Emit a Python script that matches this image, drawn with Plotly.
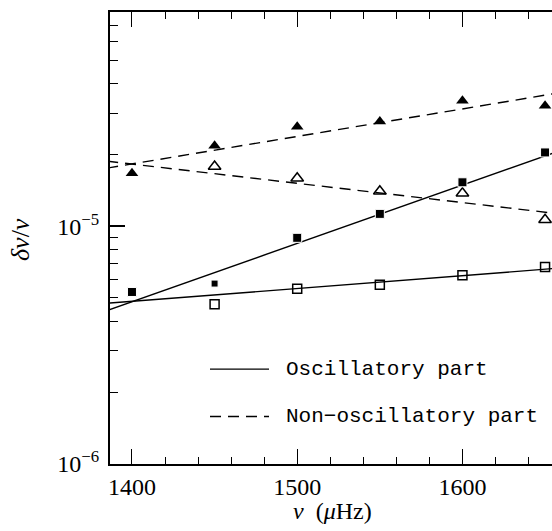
import plotly.graph_objects as go

# ---- data ----
freq = [1400, 1450, 1500, 1550, 1600, 1650]
freq_open = [1450, 1500, 1550, 1600, 1650]

nonosc_filled = [1.675e-5, 2.19e-5, 2.63e-5, 2.77e-5, 3.38e-5, 3.22e-5]   # filled triangles
nonosc_open = [1.79e-5, 1.595e-5, 1.407e-5, 1.38e-5, 1.067e-5]          # open triangles
osc_filled = [5.30e-6, 5.75e-6, 8.96e-6, 1.13e-5, 1.535e-5, 2.05e-5]    # filled squares
osc_open = [4.71e-6, 5.47e-6, 5.69e-6, 6.23e-6, 6.75e-6]               # open squares

# fitted lines (end points read at the axis edges)
fit_x = [1385, 1655]
fit_osc_filled = [4.43e-6, 2.04e-5]
fit_osc_open = [4.75e-6, 6.65e-6]
fit_nonosc_filled = [1.762e-5, 3.62e-5]
fit_nonosc_open = [1.884e-5, 1.138e-5]

x_ticks = [1400, 1500, 1600]
y_ticks = [1e-6, 1e-5]
y_ticktext = ["10<sup>−6</sup>", "10<sup>−5</sup>"]
y_minor = [2e-6, 3e-6, 4e-6, 5e-6, 6e-6, 7e-6, 8e-6, 9e-6,
           2e-5, 3e-5, 4e-5, 5e-5, 6e-5, 7e-5, 8e-5]

legend_labels = ["Oscillatory part", "Non\u2212oscillatory part"]

SERIF = "Liberation Serif"
MONO = "Liberation Mono"

fig = go.Figure()

dash = "11px,7px"
for ys, dsh in [(fit_osc_filled, "solid"), (fit_osc_open, "solid"),
                (fit_nonosc_filled, dash), (fit_nonosc_open, dash)]:
    fig.add_trace(go.Scatter(x=fit_x, y=ys, mode="lines",
                             line=dict(color="black", width=1.4, dash=dsh),
                             showlegend=False, hoverinfo="skip"))

fig.add_trace(go.Scatter(x=freq, y=nonosc_filled, mode="markers",
                         marker=dict(symbol="triangle-up", size=11, color="black", opacity=1),
                         showlegend=False))
fig.add_trace(go.Scatter(x=freq_open, y=nonosc_open, mode="markers",
                         marker=dict(symbol="triangle-up-open", size=11, color="black",
                                     opacity=1, line=dict(width=1.5)),
                         showlegend=False))
fig.add_trace(go.Scatter(x=freq, y=osc_filled, mode="markers",
                         marker=dict(symbol="square", size=[9, 7, 9, 9, 9, 9], color="black",
                                     opacity=1),
                         showlegend=False))
fig.add_trace(go.Scatter(x=freq_open, y=osc_open, mode="markers",
                         marker=dict(symbol="square-open", size=9, color="black",
                                     opacity=1, line=dict(width=1.5)),
                         showlegend=False))

# manual legend
leg_y = [0.21, 0.105]
for yy, dsh, lab in zip(leg_y, ["solid", dash], legend_labels):
    fig.add_shape(type="line", xref="paper", yref="paper",
                  x0=(210 - 110) / 442, x1=(269 - 110) / 442, y0=yy, y1=yy,
                  line=dict(color="black", width=1.4, dash=dsh))
    fig.add_annotation(xref="paper", yref="paper", x=(284 - 110) / 442, y=yy,
                       text=lab, showarrow=False, xanchor="left", yanchor="middle",
                       font=dict(family=MONO, size=21, color="black"))

# axis titles
fig.add_annotation(xref="paper", yref="paper", x=(332 - 110) / 442, y=-0.105,
                   text="<i>ν</i>\u2002(<i>μ</i>Hz)", showarrow=False,
                   xanchor="center", yanchor="middle",
                   font=dict(family=SERIF, size=24, color="black"))
fig.add_annotation(xref="paper", yref="paper", x=-(110 - 20) / 442, y=(464 - 240) / 452,
                   text="<i>δν</i>/<i>ν</i>", showarrow=False, textangle=-90,
                   xanchor="center", yanchor="middle",
                   font=dict(family=SERIF, size=26, color="black"))

fig.update_layout(
    width=552, height=531,
    margin=dict(l=110, r=0, t=12, b=67),
    paper_bgcolor="white", plot_bgcolor="white",
    showlegend=False,
    xaxis=dict(range=[1386.7, 1654.2], tickvals=x_ticks,
               showline=True, linecolor="black", linewidth=2, mirror="ticks",
               ticks="inside", ticklen=15, tickwidth=1, tickcolor="black",
               showgrid=False, zeroline=False,
               tickfont=dict(family=SERIF, size=24, color="black"),
               minor=dict(dtick=20, tick0=1400, ticks="inside", ticklen=7,
                          tickwidth=1, tickcolor="black", showgrid=False)),
    yaxis=dict(type="log", range=[-6, -4.09691], tickvals=y_ticks, ticktext=y_ticktext,
               showline=True, linecolor="black", linewidth=2, mirror=False,
               ticks="inside", ticklen=15, tickwidth=1.5, tickcolor="black",
               showgrid=False, zeroline=False, ticklabelstandoff=4,
               tickfont=dict(family=SERIF, size=24, color="black"),
               minor=dict(tickmode="array", tickvals=y_minor, ticks="inside", ticklen=8,
                          tickwidth=1, tickcolor="black", showgrid=False)),
)

fig.write_html("out.html")
